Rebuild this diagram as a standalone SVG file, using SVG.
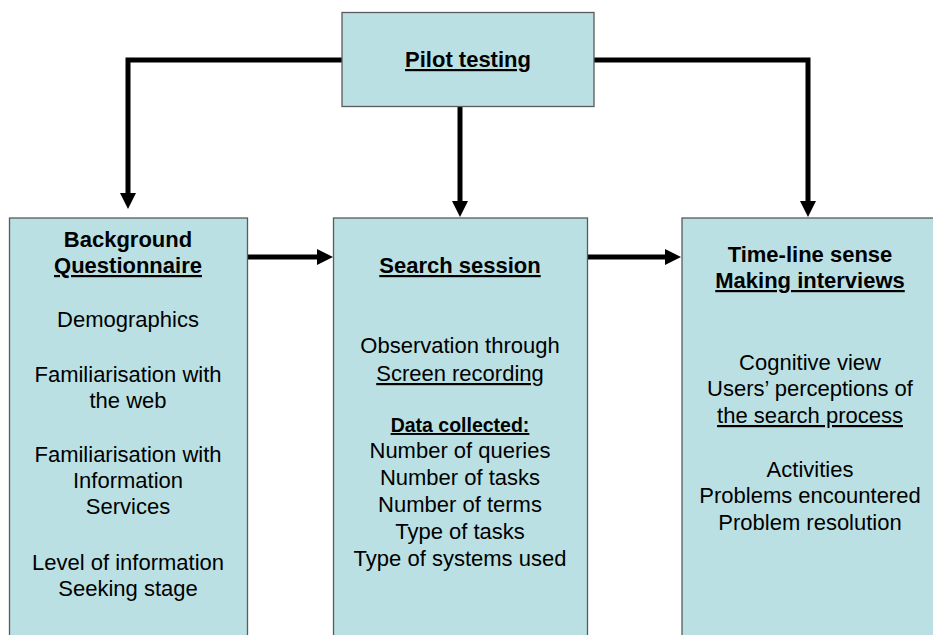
<svg xmlns="http://www.w3.org/2000/svg" width="933" height="635" viewBox="0 0 933 635">
<style>
.box{fill:#BBE0E3;stroke:#5a5a5a;stroke-width:1.3}
.c{fill:none;stroke:#000;stroke-width:5;stroke-linejoin:miter}
text{font-family:"Liberation Sans",Arial,sans-serif;font-size:22px;fill:#000;text-anchor:middle}
.b{font-weight:bold}
.u{text-decoration:underline}
</style>
<defs>
<marker id="ah" markerUnits="userSpaceOnUse" markerWidth="18" markerHeight="18" refX="0" refY="8" orient="auto" viewBox="0 0 18 16">
<path d="M0,0 L16,8 L0,16 z" fill="#000"/>
</marker>
</defs>
<rect width="933" height="635" fill="#fff"/>
<g id="connectors">
<path class="c" d="M342,60 H128 V193" marker-end="url(#ah)"/>
<path class="c" d="M460,106 V201" marker-end="url(#ah)"/>
<path class="c" d="M594,60 H808 V201" marker-end="url(#ah)"/>
<path class="c" d="M247,257 H317" marker-end="url(#ah)"/>
<path class="c" d="M587,257 H665" marker-end="url(#ah)"/>
</g>
<g id="pilot">
<rect class="box" x="342" y="12.5" width="252" height="94"/>
<text x="468" y="67" class="b u">Pilot testing</text>
</g>
<g id="background">
<rect class="box" x="9.5" y="218" width="238" height="420"/>
<text x="128" y="247" class="b">Background</text>
<text x="128" y="273" class="b u">Questionnaire</text>
<text x="128" y="327">Demographics</text>
<text x="128" y="382">Familiarisation with</text>
<text x="128" y="408">the web</text>
<text x="128" y="462">Familiarisation with</text>
<text x="128" y="488">Information</text>
<text x="128" y="514">Services</text>
<text x="128" y="570">Level of information</text>
<text x="128" y="596">Seeking stage</text>
</g>
<g id="search">
<rect class="box" x="333.5" y="218" width="254" height="420"/>
<text x="460" y="273" class="b u">Search session</text>
<text x="460" y="353">Observation through</text>
<text x="460" y="381" class="u">Screen recording</text>
<text x="460" y="432" class="b u" style="font-size:19.5px">Data collected:</text>
<text x="460" y="458">Number of queries</text>
<text x="460" y="485">Number of tasks</text>
<text x="460" y="512">Number of terms</text>
<text x="460" y="539">Type of tasks</text>
<text x="460" y="566">Type of systems used</text>
</g>
<g id="timeline">
<rect class="box" x="682" y="218" width="260" height="420"/>
<text x="810" y="262" class="b">Time-line sense</text>
<text x="810" y="288" class="b u">Making interviews</text>
<text x="810" y="370">Cognitive view</text>
<text x="810" y="396">Users’ perceptions of</text>
<text x="810" y="423" class="u">the search process</text>
<text x="810" y="477">Activities</text>
<text x="810" y="503">Problems encountered</text>
<text x="810" y="530">Problem resolution</text>
</g>
</svg>
